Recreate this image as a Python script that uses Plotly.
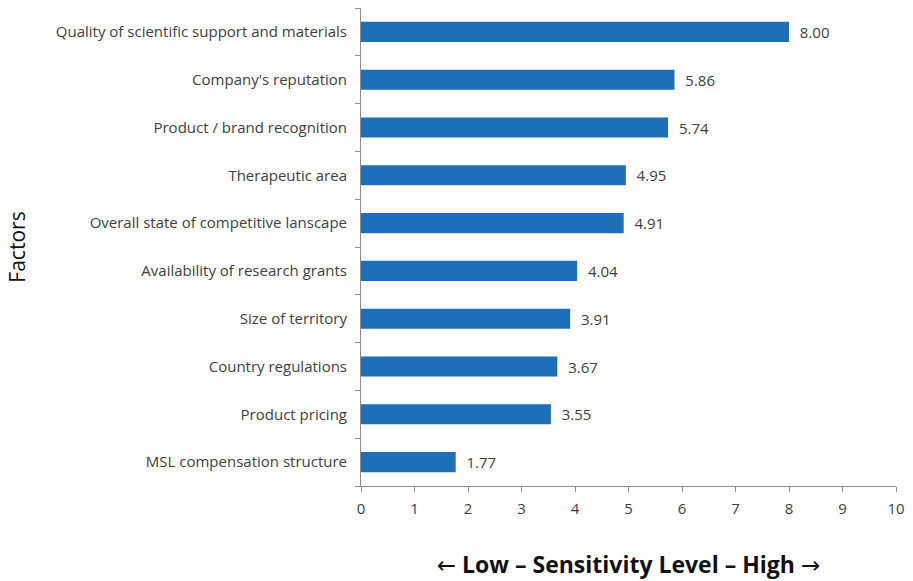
import plotly.graph_objects as go

factors = [
    "Quality of scientific support and materials",
    "Company's reputation",
    "Product / brand recognition",
    "Therapeutic area",
    "Overall state of competitive lanscape",
    "Availability of research grants",
    "Size of territory",
    "Country regulations",
    "Product pricing",
    "MSL compensation structure",
]
scores = [8.00, 5.86, 5.74, 4.95, 4.91, 4.04, 3.91, 3.67, 3.55, 1.77]
x_ticks = list(range(0, 11))

font_family = "Open Sans, Noto Sans, sans-serif"
arrow = '<span style="font-family:DejaVu Sans;font-weight:normal">{}</span>'

fig = go.Figure(
    go.Bar(
        x=scores,
        y=factors,
        orientation="h",
        width=0.42,
        marker=dict(color="#1f6fb8", line=dict(width=0)),
        text=[f"  {v:.2f}" for v in scores],
        textposition="outside",
        textfont=dict(size=15, color="#404040", family=font_family),
        cliponaxis=False,
    )
)

fig.update_layout(
    width=913,
    height=581,
    margin=dict(l=361, r=13, t=8, b=94),
    paper_bgcolor="white",
    plot_bgcolor="white",
    showlegend=False,
    font=dict(family=font_family, color="#404040", size=15),
    xaxis=dict(
        range=[0, 10],
        tickvals=x_ticks,
        showgrid=False,
        zeroline=False,
        showline=True,
        linecolor="#8c8c8c",
        linewidth=1,
        ticks="outside",
        ticklen=5,
        tickcolor="#8c8c8c",
        tickfont=dict(size=15, color="#404040"),
        ticklabelstandoff=4,
        title=dict(
            text=arrow.format("\u2190")
            + "<b> Low \u2013 Sensitivity Level \u2013 High </b>"
            + arrow.format("\u2192"),
            font=dict(size=23, color="#111111"),
            standoff=39,
        ),
    ),
    yaxis=dict(
        categoryorder="array",
        categoryarray=factors[::-1],
        showgrid=False,
        zeroline=False,
        showline=True,
        linecolor="#8c8c8c",
        linewidth=1,
        ticks="outside",
        tickson="boundaries",
        ticklen=5,
        tickcolor="#8c8c8c",
        tickfont=dict(size=15, color="#404040"),
        ticklabelstandoff=10,
        title=dict(text="Factors", font=dict(size=21, color="#111111"), standoff=24),
    ),
)

fig.write_html("out.html")
